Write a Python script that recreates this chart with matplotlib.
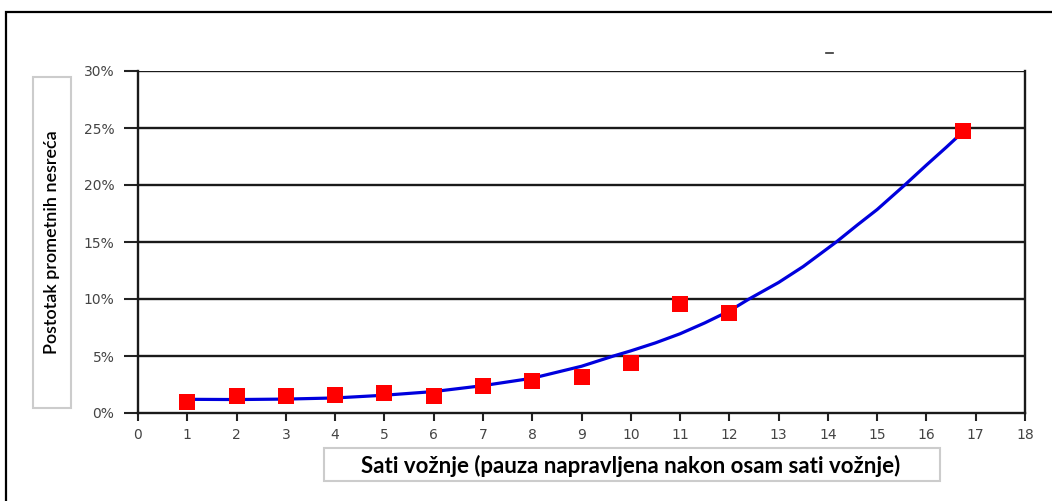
import matplotlib
matplotlib.use("Agg")
import matplotlib.pyplot as plt
from matplotlib.patches import Rectangle
from matplotlib.lines import Line2D
from matplotlib.ticker import FuncFormatter

plt.rcParams['font.family'] = ['DejaVu Sans']

# ---------------- data ----------------
hours = [1, 2, 3, 4, 5, 6, 7, 8, 9, 10, 11, 12, 16.75]
accident_pct = [0.95, 1.5, 1.5, 1.55, 1.75, 1.5, 2.4, 2.85, 3.15, 4.4, 9.55, 8.8, 24.7]

# trend line (incl. where it crosses the grid lines)
trend_x = [1, 2, 3, 4, 5, 6, 7, 8, 9, 9.65, 10, 10.5, 11, 11.5, 12, 12.4, 13,
           13.5, 14.17, 14.6, 15, 15.56, 16, 16.4, 16.75]
trend_y = [1.2, 1.18, 1.22, 1.32, 1.56, 1.88, 2.4, 3.05, 4.1, 5.0, 5.45, 6.15,
           6.95, 7.9, 8.95, 10.0, 11.45, 12.85, 15.0, 16.5, 17.85, 20.0, 21.75,
           23.3, 24.7]

x_ticks = list(range(0, 19))
y_ticks = [0, 5, 10, 15, 20, 25, 30]

y_label = "Postotak prometnih nesreća"
x_label = "Sati vožnje (pauza napravljena nakon osam sati vožnje)"

# ---------------- figure ----------------
W, H = 1052, 501
fig = plt.figure(figsize=(W / 100, H / 100), dpi=100)

# outer frame (runs off the right and bottom edges)
fig.add_artist(Rectangle((6 / W, -0.05), 1.2, 1 - 12 / H + 0.05, transform=fig.transFigure,
                         fill=False, edgecolor="black", linewidth=1.6))

ax = fig.add_axes([138 / W, 1 - 413 / H, (1025 - 138) / W, (413 - 71) / H])

ax.plot(trend_x, trend_y, color="#0000dd", linewidth=2.3, zorder=3,
        solid_joinstyle="round")
ax.plot(hours, accident_pct, linestyle="none", marker="s", markersize=11,
        color="#ff0000", markeredgewidth=0, zorder=4)

ax.set_xlim(0, 18)
ax.set_ylim(0, 30)
ax.set_xticks(x_ticks)
ax.set_yticks(y_ticks)
ax.yaxis.set_major_formatter(FuncFormatter(lambda v, p: "%d%%" % v))

for v in y_ticks[1:]:
    ax.axhline(v, color="#1a1a1a", linewidth=1.7, zorder=1)

for s in ["left", "right", "bottom"]:
    ax.spines[s].set_color("#1a1a1a")
    ax.spines[s].set_linewidth(1.7)
ax.spines["top"].set_visible(False)

ax.tick_params(axis="y", direction="out", length=10, width=1.5, color="#222222",
               labelsize=10, labelcolor="#444444", pad=7)
ax.tick_params(axis="x", direction="out", length=6, width=1.5, color="#222222",
               labelsize=10, labelcolor="#444444", pad=5)

# y label inside a light grey box
fig.add_artist(Rectangle((33 / W, 1 - 408 / H), (71 - 33) / W, (408 - 77) / H,
                         transform=fig.transFigure, fill=True, facecolor="white",
                         edgecolor="#cccccc", linewidth=1.5))
fig.text(52 / W, 1 - 242 / H, y_label, rotation=90, ha="center", va="center",
         fontsize=13, family="Lato", fontweight="semibold", color="black")

# x label inside a light grey box
fig.add_artist(Rectangle((324 / W, 1 - 481 / H), (940 - 324) / W, (481 - 448) / H,
                         transform=fig.transFigure, fill=True, facecolor="white",
                         edgecolor="#cccccc", linewidth=1.5))
fig.text(631 / W, 1 - 466 / H, x_label, ha="center", va="center",
         fontsize=16, family="Lato", fontweight="bold", color="black")

# small stray dash above the plot
fig.add_artist(Line2D([826 / W, 833 / W], [1 - 53 / H, 1 - 53 / H],
                      transform=fig.transFigure, color="#333333", linewidth=1.2))

fig.savefig("out.png", dpi=100)
plt.close(fig)
